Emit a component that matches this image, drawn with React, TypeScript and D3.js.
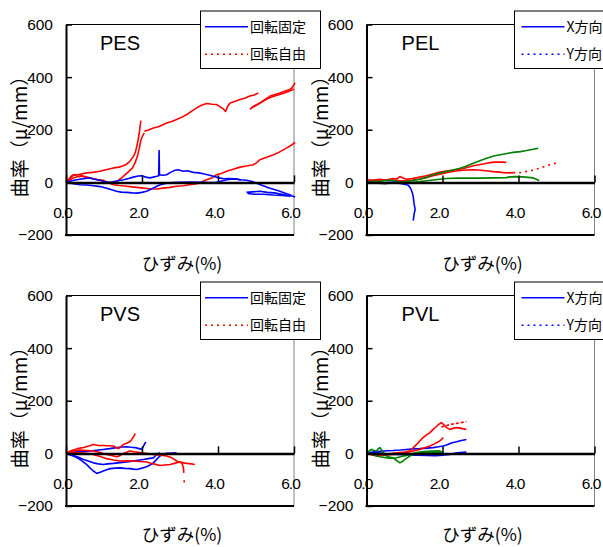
import React, { useRef, useEffect } from "react";
import * as d3 from "d3";

type Pt = [number, number];

// axis ticks
const xTicks = [0, 2, 4, 6];
const xTickLabels = ["0.0", "2.0", "4.0", "6.0"];
const yTicks = [-200, 0, 200, 400, 600];
const yTickLabels = ["\u2212200", "0", "200", "400", "600"];

const panelTitles = ["PES", "PEL", "PVS", "PVL"];
const legendRotation = ["回転固定", "回転自由"];
const legendDirection = ["X方向", "Y方向"];

// PES
const pesRedA: Pt[] = [[0,0],[0.1,12],[0.19,29],[0.35,30],[0.54,36],[0.7,38],[0.89,42],[1.05,48],[1.25,55],[1.4,58],[1.51,63],[1.6,70],[1.68,80],[1.76,95],[1.82,112],[1.86,135],[1.9,163],[1.93,190],[1.95,213],[1.97,235]];
const pesRedB: Pt[] = [[0,0],[0.15,25],[0.35,30],[0.5,20],[0.7,15],[0.9,8],[1.05,2],[1.2,-5],[1.35,5],[1.5,22],[1.64,40],[1.75,55],[1.82,75],[1.88,100],[1.93,130],[1.97,160],[2.02,178],[2.06,188]];
const pesRedC: Pt[] = [[2.06,194],[2.15,198],[2.3,207],[2.45,212],[2.65,226],[2.8,232],[2.91,239],[3.05,248],[3.18,258],[3.3,270],[3.44,283],[3.55,292],[3.7,300],[3.85,297],[3.96,296],[4.05,288],[4.14,279],[4.2,270],[4.26,290],[4.32,302],[4.45,308],[4.58,315],[4.7,320],[4.84,328],[4.95,332],[5.06,340]];
const pesRedD: Pt[] = [[4.84,277],[4.95,290],[5.1,302],[5.25,316],[5.37,328],[5.5,334],[5.63,340],[5.75,346],[5.89,353],[5.95,360],[6.03,378]];
const pesRedE: Pt[] = [[4.88,285],[5.0,292],[5.15,305],[5.3,318],[5.45,326],[5.6,333],[5.75,340],[5.9,348],[6.0,355]];
const pesRedF: Pt[] = [[0,0],[0.19,17],[0.32,22],[0.46,23],[0.6,18],[0.72,13],[0.85,10],[0.98,8],[1.1,0],[1.25,-9],[1.4,-12],[1.6,-15],[1.8,-18],[2.04,-22],[2.2,-24],[2.39,-25],[2.55,-22],[2.74,-19],[2.9,-15],[3.09,-13],[3.25,-9],[3.44,-5],[3.58,2],[3.7,10],[3.85,18],[3.96,29],[4.1,35],[4.23,42],[4.4,50],[4.58,58],[4.75,62],[4.93,67],[5.02,75],[5.1,86],[5.3,96],[5.46,105],[5.6,114],[5.81,131],[5.95,143],[6.03,152]];
const pesBlueA: Pt[] = [[0,0],[0.15,6],[0.28,10],[0.45,14],[0.63,17],[0.75,12],[0.89,8],[1.0,3],[1.16,0],[1.3,4],[1.51,10],[1.65,15],[1.77,20],[1.9,24],[1.99,25],[2.1,20],[2.21,17],[2.3,20],[2.39,23],[2.44,25],[2.45,121],[2.46,29],[2.55,27],[2.65,29],[2.75,38],[2.87,46],[2.95,48],[3.09,42],[3.2,44],[3.35,38],[3.5,36],[3.61,33],[3.75,28],[3.88,23],[4.0,18],[4.14,14],[4.3,15],[4.49,13],[4.6,10],[4.75,8],[4.9,3],[5.02,-3],[5.1,-8],[5.19,-13],[5.28,-18],[5.37,-22],[5.5,-28],[5.63,-34],[5.75,-40],[5.89,-47],[5.95,-52],[6.03,-56]];
const pesBlueB: Pt[] = [[0,0],[0.2,-5],[0.37,-9],[0.55,-10],[0.72,-13],[0.9,-16],[1.07,-22],[1.2,-28],[1.33,-34],[1.45,-37],[1.6,-38],[1.75,-40],[1.86,-41],[2.0,-38],[2.12,-34],[2.25,-25],[2.39,-15],[2.5,-8],[2.65,-3],[2.8,-1],[3.0,0],[3.3,1],[3.53,0],[3.75,-1],[3.96,0],[4.1,5],[4.23,10],[4.35,12],[4.49,13],[4.6,8]];
const pesBlueLoop: Pt[] = [[4.75,-38],[4.9,-36],[5.1,-34],[5.3,-38],[5.54,-41],[5.75,-47],[5.89,-53],[5.7,-50],[5.45,-48],[5.2,-45],[4.95,-45],[4.78,-42]];

// PEL
const pelGreenA: Pt[] = [[0,0],[0.2,4],[0.35,3],[0.5,8],[0.7,7],[0.85,2],[1.05,2],[1.2,6],[1.4,12],[1.55,18],[1.75,29],[1.9,35],[2.1,41],[2.3,48],[2.46,54],[2.6,60],[2.81,73],[3.0,83],[3.16,92],[3.35,100],[3.51,105],[3.7,110],[3.86,114],[4.05,117],[4.21,121],[4.35,125],[4.52,130]];
const pelGreenB: Pt[] = [[0,0],[0.3,-3],[0.5,-5],[0.7,0],[0.9,-2],[1.23,0],[1.4,3],[1.58,6],[1.75,9],[1.93,12],[2.1,15],[2.4,16],[2.63,16],[3.0,16],[3.33,17],[3.68,18],[3.77,21],[3.95,22],[4.1,21],[4.25,19],[4.39,17],[4.47,12],[4.54,7]];
const pelRedA: Pt[] = [[0,10],[0.15,8],[0.35,12],[0.5,9],[0.7,15],[0.8,13],[0.88,22],[0.95,18],[1.05,12],[1.2,15],[1.4,20],[1.55,24],[1.75,32],[1.9,38],[2.1,43],[2.3,47],[2.46,50],[2.6,55],[2.81,63],[3.0,68],[3.16,73],[3.3,76],[3.42,77],[3.55,77],[3.68,76]];
const pelRedB: Pt[] = [[0,6],[0.2,8],[0.5,7],[0.7,9],[0.9,6],[1.05,7],[1.2,9],[1.4,13],[1.58,18],[1.75,25],[1.93,31],[2.1,37],[2.3,42],[2.46,45],[2.65,47],[2.81,48],[2.95,47],[3.07,45],[3.2,43],[3.33,41],[3.5,39],[3.6,37],[3.75,36],[3.86,37]];
const pelRedDotted: Pt[] = [[3.86,37],[4.04,37],[4.17,40],[4.3,44],[4.45,49],[4.56,54],[4.7,61],[4.82,67],[4.92,71],[5.0,73]];
const pelBlue: Pt[] = [[0,0],[0.2,-2],[0.35,-3],[0.55,-1],[0.7,0],[0.85,-3],[0.96,-6],[1.05,-9],[1.1,-11],[1.15,-20],[1.18,-29],[1.21,-42],[1.23,-54],[1.25,-79],[1.27,-95],[1.28,-105],[1.26,-115],[1.25,-124],[1.24,-135],[1.23,-145]];

// PVS
const pvsRedA: Pt[] = [[0,0],[0.1,8],[0.19,13],[0.3,18],[0.46,22],[0.6,28],[0.72,34],[0.85,30],[0.98,30],[1.1,29],[1.25,28],[1.32,22],[1.38,18],[1.45,26],[1.51,34],[1.58,38],[1.64,41],[1.7,47],[1.73,53],[1.79,66],[1.82,76]];
const pvsRedB: Pt[] = [[0,0],[0.15,8],[0.37,13],[0.55,11],[0.72,9],[0.9,3],[1.07,-4],[1.2,-8],[1.33,-13],[1.4,-10],[1.46,-4],[1.58,3],[1.68,9],[1.8,6],[1.95,3],[2.1,0],[2.3,-4],[2.5,-7],[2.65,-10],[2.8,-18],[2.91,-29],[3.04,-36],[3.07,-45],[3.09,-55],[3.1,-74]];
const pvsRedDot: Pt[] = [[3.11,-102],[3.11,-111]];
const pvsRedC: Pt[] = [[0,0],[0.2,3],[0.37,2],[0.55,0],[0.72,-4],[0.9,-12],[1.07,-20],[1.25,-25],[1.42,-29],[1.6,-28],[1.77,-29],[1.95,-31],[2.12,-33],[2.3,-40],[2.47,-46],[2.6,-44],[2.74,-42],[2.87,-37],[3.0,-33],[3.1,-36],[3.18,-38],[3.3,-40],[3.39,-42]];
const pvsBlueA: Pt[] = [[0,0],[0.15,3],[0.28,6],[0.45,7],[0.63,9],[0.8,12],[0.98,15],[1.15,18],[1.33,22],[1.48,24],[1.6,25],[1.72,23],[1.82,22],[1.92,18],[1.99,15],[2.02,22],[2.04,28],[2.07,36],[2.1,44]];
const pvsBlueB: Pt[] = [[0,0],[0.1,-5],[0.19,-10],[0.28,-16],[0.37,-23],[0.45,-32],[0.54,-42],[0.63,-55],[0.72,-67],[0.81,-76],[0.9,-72],[0.98,-67],[1.07,-62],[1.16,-58],[1.3,-56],[1.42,-55],[1.55,-57],[1.68,-58],[1.78,-60],[1.86,-61],[2.0,-56],[2.12,-51],[2.2,-45],[2.3,-36],[2.39,-22],[2.47,-10],[2.56,-4],[2.65,0],[2.8,1],[2.91,2]];
const pvsBlueC: Pt[] = [[0,0],[0.1,-4],[0.19,-8],[0.33,-15],[0.46,-23],[0.6,-30],[0.72,-36],[0.85,-40],[0.98,-42],[1.1,-40],[1.25,-38],[1.42,-35],[1.6,-33],[1.77,-29],[1.9,-26],[2.04,-23],[2.17,-20],[2.3,-17],[2.35,-10],[2.39,-4],[2.47,3]];

// PVL
const pvlRedA: Pt[] = [[0,0],[0.13,-5],[0.26,-10],[0.4,-7],[0.53,-4],[0.7,0],[0.88,3],[1.0,5],[1.14,9],[1.22,20],[1.32,34],[1.4,47],[1.49,60],[1.58,70],[1.67,79],[1.75,90],[1.84,102],[1.9,110],[1.97,117],[2.04,108],[2.11,98],[2.19,91],[2.28,95],[2.37,98],[2.5,95],[2.63,91]];
const pvlRedB: Pt[] = [[1.97,100],[2.1,105],[2.19,110],[2.3,112],[2.37,114],[2.5,117],[2.63,121]];
const pvlRedC: Pt[] = [[0,0],[0.2,-5],[0.35,-8],[0.55,-6],[0.7,-4],[0.88,0],[1.05,3],[1.2,8],[1.4,15],[1.55,22],[1.67,28],[1.8,37],[1.93,47],[2.02,60]];
const pvlBlueA: Pt[] = [[0,0],[0.15,5],[0.35,8],[0.55,10],[0.7,11],[0.9,13],[1.05,15],[1.25,17],[1.4,18],[1.6,20],[1.75,22],[1.9,25],[2.02,28],[2.1,32],[2.19,37],[2.28,41],[2.37,44],[2.5,49],[2.63,53]];
const pvlBlueB: Pt[] = [[0,0],[0.25,3],[0.53,-2],[0.8,-4],[1.05,-5],[1.3,-7],[1.58,-8],[1.8,-9],[1.93,-8],[2.05,-6],[2.19,-4],[2.32,0],[2.46,3],[2.63,5]];
const pvlGreenA: Pt[] = [[0,0],[0.06,8],[0.13,15],[0.2,11],[0.26,9],[0.3,16],[0.35,22],[0.4,12],[0.44,3],[0.5,-5],[0.53,-10],[0.6,-14],[0.7,-17],[0.8,-28],[0.88,-36],[0.95,-30],[1.01,-23],[1.08,-16],[1.14,-10],[1.22,-4],[1.32,0],[1.45,3],[1.58,5],[1.75,7],[1.93,9]];
const pvlGreenB: Pt[] = [[0,0],[0.1,-2],[0.18,-4],[0.26,-9],[0.35,-13],[0.45,-15],[0.53,-17],[0.65,-18],[0.79,-17],[0.92,-12],[1.05,-8],[1.18,-2],[1.32,3],[1.45,6],[1.58,8],[1.75,9],[1.93,9],[2.0,3],[1.6,2],[1.4,3]];

const RED = "#ff0000";
const BLUE = "#0000ff";
const GREEN = "#008000";

type Series = { pts: Pt[]; color: string; dash?: string };

const panels = [
  {
    ox: 0, oy: 0, title: panelTitles[0], legend: legendRotation, legendColors: [BLUE, RED], legendX: 200.5, legendPad: 4.5,
    series: [
      { pts: pesRedF, color: RED }, { pts: pesRedA, color: RED }, { pts: pesRedB, color: RED },
      { pts: pesRedC, color: RED }, { pts: pesRedD, color: RED }, { pts: pesRedE, color: RED },
      { pts: pesBlueB, color: BLUE }, { pts: pesBlueA, color: BLUE }, { pts: pesBlueLoop, color: BLUE },
    ] as Series[],
  },
  {
    ox: 300.5, oy: 0, title: panelTitles[1], legend: legendDirection, legendColors: [BLUE, BLUE], legendX: 214, legendPad: 7,
    series: [
      { pts: pelRedA, color: RED }, { pts: pelRedB, color: RED }, { pts: pelRedDotted, color: RED, dash: "2,4" },
      { pts: pelGreenB, color: GREEN }, { pts: pelGreenA, color: GREEN }, { pts: pelBlue, color: BLUE },
    ] as Series[],
  },
  {
    ox: 0, oy: 271, title: panelTitles[2], legend: legendRotation, legendColors: [BLUE, RED], legendX: 200.5, legendPad: 4.5,
    series: [
      { pts: pvsBlueB, color: BLUE }, { pts: pvsBlueC, color: BLUE }, { pts: pvsBlueA, color: BLUE },
      { pts: pvsRedC, color: RED }, { pts: pvsRedB, color: RED }, { pts: pvsRedA, color: RED },
      { pts: pvsRedDot, color: RED },
    ] as Series[],
  },
  {
    ox: 300.5, oy: 271, title: panelTitles[3], legend: legendDirection, legendColors: [BLUE, BLUE], legendX: 214, legendPad: 7,
    series: [
      { pts: pvlBlueB, color: BLUE }, { pts: pvlBlueA, color: BLUE },
      { pts: pvlRedC, color: RED }, { pts: pvlRedA, color: RED }, { pts: pvlRedB, color: RED, dash: "3,2" },
      { pts: pvlGreenB, color: GREEN }, { pts: pvlGreenA, color: GREEN },
    ] as Series[],
  },
];

const NUM_FONT = "'Liberation Sans', Arial, sans-serif";
const JP_FONT = "'Noto Sans CJK JP', sans-serif";

// plot box inside each panel
const box = { left: 66, right: 294, top: 24.5, bottom: 235 };

const Panel = ({ p }: { p: (typeof panels)[number] }) => {
  const ref = useRef<SVGGElement>(null);

  useEffect(() => {
    const g = d3.select(ref.current);
    g.selectAll("*").remove();

    const x = d3.scaleLinear().domain([0, 6]).range([box.left, box.right]);
    const y = d3.scaleLinear().domain([-200, 600]).range([box.bottom, box.top]);

    // frame: thin top, gray right
    g.append("line").attr("x1", box.left).attr("x2", box.right)
      .attr("y1", box.top).attr("y2", box.top).attr("stroke", "#000").attr("stroke-width", 1);
    g.append("line").attr("x1", box.right).attr("x2", box.right)
      .attr("y1", box.top).attr("y2", box.bottom).attr("stroke", "#808080").attr("stroke-width", 1);

    // data lines
    const line = d3.line<Pt>().x((d) => x(d[0])).y((d) => y(d[1]));
    g.append("g").selectAll("path").data(p.series).enter().append("path")
      .attr("d", (s) => line(s.pts))
      .attr("fill", "none")
      .attr("stroke", (s) => s.color)
      .attr("stroke-width", 1.6)
      .attr("stroke-linejoin", "round")
      .attr("stroke-dasharray", (s) => s.dash || null);

    // thick bottom border
    g.append("line").attr("x1", box.left - 1).attr("x2", box.right)
      .attr("y1", box.bottom).attr("y2", box.bottom).attr("stroke", "#000").attr("stroke-width", 2);

    // x axis on the zero line
    const xAxis = d3.axisBottom(x).tickValues(xTicks).tickSize(-7).tickSizeOuter(0).tickPadding(25)
      .tickFormat((d, i) => xTickLabels[i]);
    const xg = g.append("g").attr("transform", `translate(0,${y(0)})`).call(xAxis);
    xg.select(".domain").attr("stroke-width", 2.5);
    xg.selectAll(".tick line").attr("stroke-width", 1.5);
    xg.selectAll("text").attr("font-size", 15.5).attr("font-family", NUM_FONT)
      .attr("letter-spacing", -1).attr("dx", -4).attr("fill", "#000");

    // y axis
    const yAxis = d3.axisLeft(y).tickValues(yTicks).tickSize(-6).tickSizeOuter(0).tickPadding(13)
      .tickFormat((d, i) => yTickLabels[i]);
    const yg = g.append("g").attr("transform", `translate(${box.left},0)`).call(yAxis);
    yg.select(".domain").attr("stroke-width", 2);
    yg.selectAll(".tick line").attr("stroke-width", 1.5);
    yg.selectAll("text").attr("font-size", 15.5).attr("font-family", NUM_FONT).attr("fill", "#000");

    // legend
    const lg = g.append("g");
    lg.append("rect").attr("x", p.legendX).attr("y", 11).attr("width", 120).attr("height", 57.5)
      .attr("fill", "#fff").attr("stroke", "#000").attr("stroke-width", 1);
    p.legend.forEach((label, i) => {
      const ly = 26.7 + i * 27.5;
      lg.append("line").attr("x1", p.legendX + p.legendPad).attr("x2", p.legendX + p.legendPad + 43)
        .attr("y1", ly).attr("y2", ly).attr("stroke", p.legendColors[i]).attr("stroke-width", 1.4)
        .attr("stroke-dasharray", i === 1 ? "2,4" : null);
      lg.append("text").attr("x", p.legendX + p.legendPad + 45).attr("y", ly + 5)
        .attr("font-size", 14).attr("font-family", JP_FONT).text(label);
    });

    // titles and axis labels
    g.append("text").attr("x", box.left + 54).attr("y", 50).attr("text-anchor", "middle")
      .attr("font-size", 20).attr("font-family", NUM_FONT).text(p.title);
    g.append("text").attr("x", box.left + 116).attr("y", 270).attr("text-anchor", "middle")
      .attr("font-size", 17.5).attr("font-family", JP_FONT).text("ひずみ(%)");
    g.append("text").attr("transform", "translate(27,132) rotate(-90)").attr("text-anchor", "middle")
      .attr("font-size", 19).attr("font-family", JP_FONT).text("曲率（μ/mm）");
  }, [p]);

  return <g ref={ref} transform={`translate(${p.ox},${p.oy})`} />;
};

const App = () => {
  return (
    <svg width={603} height={547} style={{ position: "absolute", left: 0, top: 0, background: "#fff" }}>
      <rect width={603} height={547} fill="#fff" />
      {panels.map((p, i) => (
        <Panel key={i} p={p} />
      ))}
    </svg>
  );
};

export default App;
